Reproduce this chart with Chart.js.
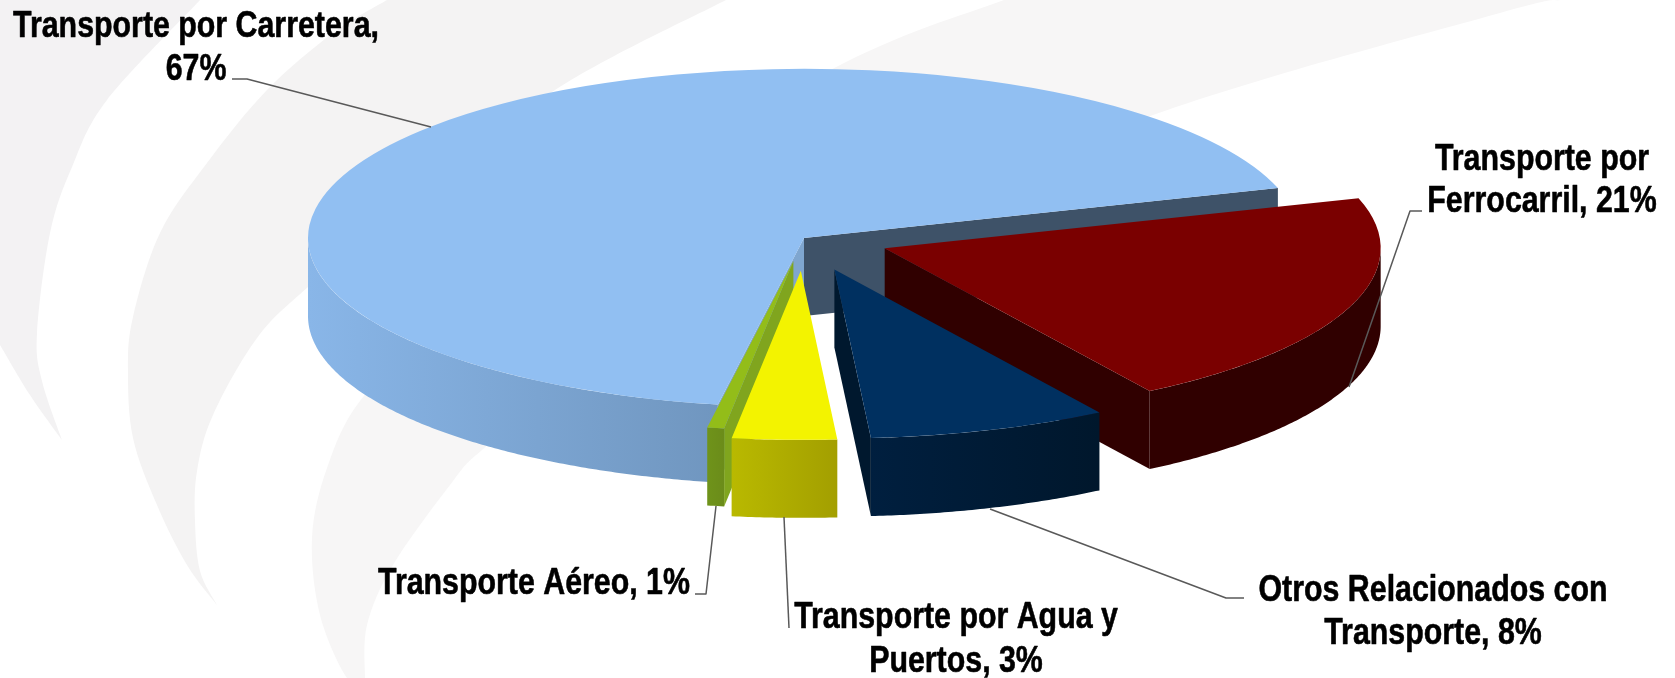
<!DOCTYPE html>
<html>
<head>
<meta charset="utf-8">
<script src="https://cdn.jsdelivr.net/npm/chart.js@4"></script>
<style>html,body{margin:0;padding:0;background:#fff;overflow:hidden}canvas{display:block}</style>
</head>
<body>
<canvas id="c" width="1675" height="678"></canvas>
<script>
const categories = ['Transporte por Carretera','Transporte por Ferrocarril','Otros Relacionados con Transporte','Transporte por Agua y Puertos','Transporte Aéreo'];
const shares = [67.45, 20.8, 7.8, 3.4, 0.55];
const topColors = ['#91bff2','#7a0000','#003060','#f3f300','#93bd19'];
const explode = [0, 86, 97, 96, 68];
const paintOrder = [0, 1, 2, 4, 3];
const tilt = 0.341, depth = 78, startDeg = 190, radius = 496;
const wallStops = [['#89b6e8','#7096bf'],['#300000','#300000'],['#001f3f','#00172c'],['#b9b900','#a39f00'],['#6f931a','#6b8c1a']];
// cut faces: [edge at the slice's end angle, edge at its start angle]; null = faces away from the viewer
const cutColors = [['#3e5268','#7fa6cf'],['#300000',null],['#00182e',null],[null,null],[null,'#80a51e']];

const labelBlocks = [
  {i:0, lines:['Transporte por Carretera,','{p}'], x:196, y:[37,80]},
  {i:1, lines:['Transporte por','Ferrocarril, {p}'], x:1542, y:[170,212]},
  {i:2, lines:['Otros Relacionados con','Transporte, {p}'], x:1433, y:[601,644]},
  {i:3, lines:['Transporte por Agua y','Puertos, {p}'], x:956, y:[628,672]},
  {i:4, lines:['Transporte Aéreo, {p}'], x:534, y:[594]}
];
const leaders = [
  [[232,79],[247,79],[431,127]],
  [[1422,211],[1410,211],[1349,387]],
  [[1244,598],[1226,598],[990,509]],
  [[695,594],[706,594],[716,506]],
  [[789,628],[784,517]]
];
// faint decorative swooshes of the slide background: chains of smooth edges
const swooshes = [
  {fill:'#f3f2f3', edges:[[[0,0],[200,0]],[[200,0],[107,100],[72,167],[50,233],[37,333],[42,381],[62,440]],[[62,440],[30,395],[0,345]]]},
  {fill:'#f4f3f3', edges:[[[387,0],[726,0]],[[726,0],[555,90],[400,210],[308,287],[257,338],[213,415],[197,471],[195,521],[200,571],[217,605]],[[217,605],[187,565],[157,505],[133,438],[128,371],[133,317],[160,233],[207,163],[267,90],[333,33],[387,0]]]},
  {fill:'#f7f6f6', edges:[[[1004,0],[1560,0]],[[1560,0],[1500,13],[1153,115],[800,260],[570,385],[482,450],[450,485],[393,565],[367,625],[365,678]],[[365,678],[347,678],[320,615],[312,538],[327,468],[360,401],[430,335],[600,205],[844,63],[1004,0]]]}
];

function chain(g, pts){
  for(let i=0;i<pts.length-1;i++){
    const p0=pts[Math.max(0,i-1)],p1=pts[i],p2=pts[i+1],p3=pts[Math.min(pts.length-1,i+2)];
    g.bezierCurveTo(p1[0]+(p2[0]-p0[0])/6,p1[1]+(p2[1]-p0[1])/6,p2[0]-(p3[0]-p1[0])/6,p2[1]-(p3[1]-p1[1])/6,p2[0],p2[1]);
  }
}

const scene = {
  id:'scene',
  beforeDraw(chart){
    const g = chart.ctx;
    g.save();
    g.fillStyle = '#ffffff'; g.fillRect(0,0,chart.width,chart.height);
    for(const s of swooshes){
      g.fillStyle = s.fill;
      g.beginPath(); g.moveTo(s.edges[0][0][0],s.edges[0][0][1]);
      s.edges.forEach(e=>chain(g,e));
      g.closePath(); g.fill();
    }
    g.restore();
  },
  beforeDatasetsDraw(chart){
    const g = chart.ctx, arcs = chart.getDatasetMeta(0).data;
    for (const i of paintOrder) {
      const a = arcs[i], mid = (a.startAngle+a.endAngle)/2, e = explode[i];
      const cx = a.x + Math.cos(mid)*e, cy = a.y + Math.sin(mid)*e*tilt, r = a.outerRadius;
      const P = t => [cx + r*Math.cos(t), cy + r*tilt*Math.sin(t)];
      const face = (p, col) => {
        g.fillStyle = col; g.beginPath();
        g.moveTo(cx,cy); g.lineTo(p[0],p[1]); g.lineTo(p[0],p[1]+depth); g.lineTo(cx,cy+depth); g.closePath(); g.fill();
      };
      if (cutColors[i][0]) face(P(a.endAngle), cutColors[i][0]);
      if (cutColors[i][1]) face(P(a.startAngle), cutColors[i][1]);
      // outer wall: the part of the rim on the near half of the ellipse
      const tau = Math.PI*2;
      for (let k=-1;k<=2;k++){
        const lo = Math.max(a.startAngle, k*tau), hi = Math.min(a.endAngle, k*tau+Math.PI);
        if (hi<=lo) continue;
        const pts=[]; const n=Math.max(4,Math.ceil((hi-lo)*120));
        for(let s=0;s<=n;s++) pts.push(P(lo+(hi-lo)*s/n));
        const xs=pts.map(q=>q[0]), x0=Math.min(...xs), x1=Math.max(...xs);
        const grad=g.createLinearGradient(x0,0,x1,0);
        grad.addColorStop(0,wallStops[i][0]); grad.addColorStop(1,wallStops[i][1]);
        g.fillStyle=grad; g.beginPath();
        pts.forEach((q,j)=>j?g.lineTo(q[0],q[1]):g.moveTo(q[0],q[1]));
        for(let s=pts.length-1;s>=0;s--) g.lineTo(pts[s][0],pts[s][1]+depth);
        g.closePath(); g.fill();
      }
      // top face: the library's own arc element, tipped back
      g.save();
      g.translate(cx,cy); g.scale(1,tilt); g.translate(-a.x,-a.y);
      a.draw(g);
      g.restore();
    }
    return false;
  },
  afterDraw(chart){
    const g = chart.ctx;
    g.save();
    g.strokeStyle='#595959'; g.lineWidth=1.5; g.lineJoin='round';
    for(const l of leaders){ g.beginPath(); l.forEach((q,j)=>j?g.lineTo(q[0],q[1]):g.moveTo(q[0],q[1])); g.stroke(); }
    g.fillStyle='#000'; g.strokeStyle='#000'; g.lineWidth=0.6;
    g.textAlign='center'; g.textBaseline='alphabetic';
    g.font='bold 37px "Liberation Sans"';
    const narrow = 0.82;
    for(const b of labelBlocks){
      const p = Math.max(1,Math.round(shares[b.i]))+'%';
      b.lines.forEach((t,j)=>{
        const s=t.replace('{p}',p);
        g.save(); g.translate(b.x,b.y[j]); g.scale(narrow,1);
        g.fillText(s,0,0); g.strokeText(s,0,0);
        g.restore();
      });
    }
    g.restore();
  }
};

new Chart(document.getElementById('c'),{
  type:'pie',
  data:{labels:categories,datasets:[{data:shares,backgroundColor:topColors,borderWidth:0}]},
  options:{
    responsive:false,animation:false,devicePixelRatio:1,
    rotation:startDeg,radius:radius,
    layout:{padding:{left:0,top:0,right:67,bottom:202}},
    plugins:{legend:{display:false},tooltip:{enabled:false}}
  },
  plugins:[scene]
});
</script>
</body>
</html>
